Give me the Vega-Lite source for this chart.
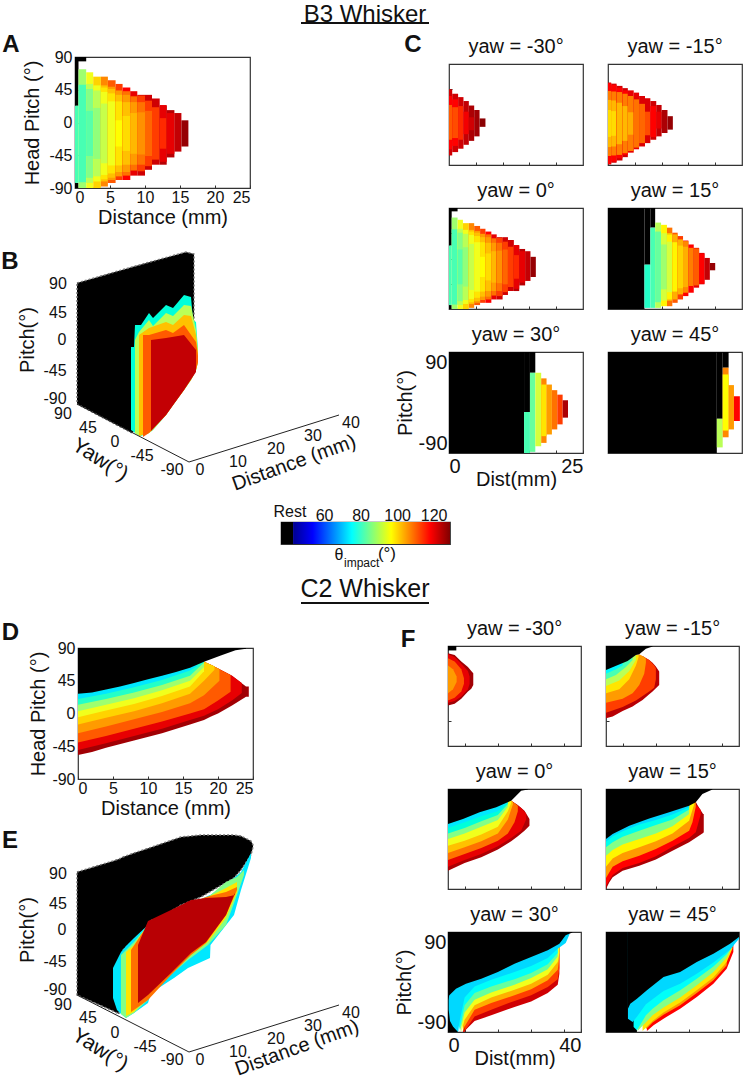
{"$schema":"https://vega.github.io/schema/vega-lite/v6.json","background":"white","padding":{"left":0,"top":0,"right":0,"bottom":0},"bounds":"flush","spacing":0,
"config":{"font":"Liberation Sans","view":{"stroke":"#333","strokeWidth":1.2},"axis":{"grid":false,"domain":false,"tickSize":-3,"tickColor":"#333","labelFont":"Liberation Sans","labelFontSize":16,"labelColor":"#111","labelPadding":5,"titleFont":"Liberation Sans","titleFontSize":20,"titleFontWeight":"normal","titleColor":"#111","titlePadding":3},"title":{"font":"Liberation Sans","fontSize":20,"fontWeight":"normal","color":"#111","offset":7,"anchor":"middle"},"text":{"font":"Liberation Sans","color":"#111","baseline":"middle"}},
"datasets":{
"A":[{"v":0,"x":0,"x2":1.6,"y":84,"y2":90},{"v":0,"x":0,"x2":0.5,"y":23,"y2":90},{"v":0,"x":0,"x2":0.5,"y":-90,"y2":-83},{"v":84,"x":0,"x2":0.5,"y":-83,"y2":23},
{"v":90,"x":0.5,"x2":1.6,"y":-90,"y2":73},{"v":84,"x":0.5,"x2":1.6,"y":-82,"y2":52},
{"v":96,"x":1.6,"x2":2.6,"y":-90,"y2":69},{"v":92,"x":1.6,"x2":2.6,"y":-83,"y2":53},{"v":88,"x":1.6,"x2":2.6,"y":-76,"y2":46},{"v":85,"x":1.6,"x2":2.6,"y":-46,"y2":16},
{"v":102,"x":2.6,"x2":3.7,"y":-90,"y2":63},{"v":96,"x":2.6,"x2":3.7,"y":-81,"y2":51},{"v":92,"x":2.6,"x2":3.7,"y":-74,"y2":44},{"v":89,"x":2.6,"x2":3.7,"y":-50,"y2":20},
{"v":110,"x":3.7,"x2":4.7,"y":-88,"y2":63},{"v":104,"x":3.7,"x2":4.7,"y":-81,"y2":51},{"v":100,"x":3.7,"x2":4.7,"y":-78,"y2":48},{"v":96,"x":3.7,"x2":4.7,"y":-72,"y2":42},{"v":93,"x":3.7,"x2":4.7,"y":-56,"y2":26},
{"v":114,"x":4.7,"x2":5.8,"y":-83,"y2":58},{"v":108,"x":4.7,"x2":5.8,"y":-79,"y2":49},{"v":104,"x":4.7,"x2":5.8,"y":-76,"y2":46},{"v":100,"x":4.7,"x2":5.8,"y":-70,"y2":40},{"v":96,"x":4.7,"x2":5.8,"y":-59,"y2":29},
{"v":116,"x":5.8,"x2":6.8,"y":-79,"y2":53},{"v":108,"x":5.8,"x2":6.8,"y":-74,"y2":44},{"v":104,"x":5.8,"x2":6.8,"y":-68,"y2":38},{"v":100,"x":5.8,"x2":6.8,"y":-59,"y2":29},{"v":97,"x":5.8,"x2":6.8,"y":-33,"y2":3},
{"v":118,"x":6.8,"x2":7.9,"y":-79,"y2":48},{"v":112,"x":6.8,"x2":7.9,"y":-73,"y2":43},{"v":108,"x":6.8,"x2":7.9,"y":-68,"y2":38},{"v":104,"x":6.8,"x2":7.9,"y":-58,"y2":28},{"v":101,"x":6.8,"x2":7.9,"y":-39,"y2":9},
{"v":120,"x":7.9,"x2":8.9,"y":-73,"y2":43},{"v":112,"x":7.9,"x2":8.9,"y":-66,"y2":36},{"v":108,"x":7.9,"x2":8.9,"y":-58,"y2":28},{"v":105,"x":7.9,"x2":8.9,"y":-43,"y2":13},
{"v":122,"x":8.9,"x2":10,"y":-73,"y2":38},{"v":116,"x":8.9,"x2":10,"y":-67,"y2":37},{"v":112,"x":8.9,"x2":10,"y":-58,"y2":28},{"v":109,"x":8.9,"x2":10,"y":-44,"y2":14},
{"v":122,"x":10,"x2":11,"y":-65,"y2":38},{"v":116,"x":10,"x2":11,"y":-60,"y2":30},{"v":113,"x":10,"x2":11,"y":-46,"y2":16},
{"v":122,"x":11,"x2":12.1,"y":-58,"y2":33},{"v":116,"x":11,"x2":12.1,"y":-51,"y2":21},
{"v":124,"x":12.1,"x2":13.1,"y":-58,"y2":23},{"v":120,"x":12.1,"x2":13.1,"y":-54,"y2":24},{"v":117,"x":12.1,"x2":13.1,"y":-36,"y2":6},
{"v":124,"x":13.1,"x2":14.2,"y":-48,"y2":17},{"v":120,"x":13.1,"x2":14.2,"y":-43,"y2":13},{"v":123,"x":14.2,"x2":15.2,"y":-40,"y2":13},{"v":127,"x":15.2,"x2":16.2,"y":-33,"y2":3}],
"C1":[{"v":122,"x":0,"x2":0.6,"y":-73,"y2":45},{"v":118,"x":0,"x2":0.6,"y":-62,"y2":33},{"v":114,"x":0,"x2":0.6,"y":-45,"y2":17},{"v":122,"x":0.6,"x2":1.7,"y":-67,"y2":37},{"v":118,"x":0.6,"x2":1.7,"y":-56,"y2":27},{"v":115,"x":0.6,"x2":1.7,"y":-42,"y2":13},{"v":122,"x":1.7,"x2":2.7,"y":-61,"y2":31},{"v":117,"x":1.7,"x2":2.7,"y":-45,"y2":15},{"v":123,"x":2.7,"x2":3.7,"y":-54,"y2":24},{"v":119,"x":2.7,"x2":3.7,"y":-35,"y2":5},{"v":125,"x":3.7,"x2":4.7,"y":-47,"y2":16},{"v":122,"x":3.7,"x2":4.7,"y":-28,"y2":-5},{"v":126,"x":4.7,"x2":5.7,"y":-39,"y2":8},{"v":128,"x":5.7,"x2":6.8,"y":-22,"y2":-7}],
"C2":[{"v":122,"x":0,"x2":0.6,"y":-89,"y2":57},{"v":118,"x":0,"x2":0.6,"y":-88,"y2":56},{"v":111,"x":0,"x2":0.6,"y":-74,"y2":42},{"v":105,"x":0,"x2":0.6,"y":-58,"y2":26},{"v":101,"x":0,"x2":0.6,"y":-40,"y2":8},
{"v":122,"x":0.6,"x2":1.6,"y":-86,"y2":55},{"v":118,"x":0.6,"x2":1.6,"y":-84,"y2":53},{"v":111,"x":0.6,"x2":1.6,"y":-73,"y2":41},{"v":105,"x":0.6,"x2":1.6,"y":-57,"y2":25},{"v":101,"x":0.6,"x2":1.6,"y":-38,"y2":6},
{"v":122,"x":1.6,"x2":2.7,"y":-82,"y2":51},{"v":118,"x":1.6,"x2":2.7,"y":-78,"y2":48},{"v":111,"x":1.6,"x2":2.7,"y":-72,"y2":40},{"v":105,"x":1.6,"x2":2.7,"y":-53,"y2":21},
{"v":122,"x":2.7,"x2":3.7,"y":-76,"y2":47},{"v":118,"x":2.7,"x2":3.7,"y":-72,"y2":43},{"v":111,"x":2.7,"x2":3.7,"y":-69,"y2":37},{"v":105,"x":2.7,"x2":3.7,"y":-47,"y2":15},
{"v":120,"x":3.7,"x2":4.8,"y":-68,"y2":43},{"v":111,"x":3.7,"x2":4.8,"y":-65,"y2":33},{"v":106,"x":3.7,"x2":4.8,"y":-36,"y2":4},
{"v":120,"x":4.8,"x2":5.8,"y":-62,"y2":39},{"v":112,"x":4.8,"x2":5.8,"y":-59,"y2":27},{"v":121,"x":5.8,"x2":6.9,"y":-57,"y2":33},{"v":113,"x":5.8,"x2":6.9,"y":-51,"y2":19},{"v":121,"x":6.9,"x2":7.9,"y":-51,"y2":29},{"v":115,"x":6.9,"x2":7.9,"y":-37,"y2":5},{"v":122,"x":7.9,"x2":9,"y":-45,"y2":24},{"v":118,"x":7.9,"x2":9,"y":-40,"y2":15},{"v":123,"x":9,"x2":10,"y":-39,"y2":17},{"v":120,"x":9,"x2":10,"y":-25,"y2":5},{"v":125,"x":10,"x2":11.1,"y":-33,"y2":8},{"v":127,"x":11.1,"x2":12.1,"y":-27,"y2":-3}],
"C4":[{"v":0,"x":0,"x2":6.8,"y":-90,"y2":90},{"v":0,"x":6.8,"x2":7.9,"y":-11,"y2":90},{"v":0,"x":7.9,"x2":8.8,"y":55,"y2":90},{"v":82,"x":6.8,"x2":7.9,"y":-88,"y2":-11},{"v":84,"x":7.9,"x2":8.8,"y":-88,"y2":55},
{"v":92,"x":8.8,"x2":9.9,"y":-88,"y2":64},{"v":86,"x":8.8,"x2":9.9,"y":-78,"y2":48},
{"v":98,"x":9.9,"x2":11,"y":-85,"y2":60},{"v":94,"x":9.9,"x2":11,"y":-75,"y2":45},{"v":90,"x":9.9,"x2":11,"y":-55,"y2":25},
{"v":112,"x":11,"x2":12,"y":-85,"y2":55},{"v":102,"x":11,"x2":12,"y":-75,"y2":45},{"v":98,"x":11,"x2":12,"y":-72,"y2":42},{"v":94,"x":11,"x2":12,"y":-60,"y2":30},
{"v":114,"x":12,"x2":13,"y":-79,"y2":46},{"v":106,"x":12,"x2":13,"y":-73,"y2":43},{"v":98,"x":12,"x2":13,"y":-59,"y2":29},
{"v":116,"x":13,"x2":14,"y":-73,"y2":40},{"v":106,"x":13,"x2":14,"y":-64,"y2":34},{"v":102,"x":13,"x2":14,"y":-53,"y2":23},
{"v":118,"x":14,"x2":15,"y":-67,"y2":32},{"v":110,"x":14,"x2":15,"y":-61,"y2":31},{"v":106,"x":14,"x2":15,"y":-51,"y2":21},
{"v":118,"x":15,"x2":16,"y":-61,"y2":25},{"v":111,"x":15,"x2":16,"y":-49,"y2":19},{"v":120,"x":16,"x2":17,"y":-52,"y2":19},{"v":114,"x":16,"x2":17,"y":-48,"y2":18},{"v":122,"x":17,"x2":18,"y":-46,"y2":10},{"v":118,"x":17,"x2":18,"y":-45,"y2":9},{"v":123,"x":18,"x2":19,"y":-38,"y2":1},{"v":127,"x":19,"x2":20,"y":-21,"y2":-8}],
"C5":[{"v":0,"x":0,"x2":14,"y":-90,"y2":90},{"v":0,"x":14,"x2":15.1,"y":-17,"y2":90},{"v":0,"x":15.1,"x2":16.1,"y":53,"y2":90},{"v":84,"x":14,"x2":15.1,"y":-90,"y2":-17},{"v":86,"x":15.1,"x2":16.1,"y":-88,"y2":53},{"v":94,"x":16.1,"x2":17.2,"y":-78,"y2":53},{"v":110,"x":17.2,"x2":18.2,"y":-72,"y2":43},{"v":100,"x":17.2,"x2":18.2,"y":-60,"y2":32},{"v":108,"x":18.2,"x2":19.2,"y":-57,"y2":32},{"v":112,"x":19.2,"x2":20.2,"y":-48,"y2":22},{"v":116,"x":20.2,"x2":21.2,"y":-39,"y2":14},{"v":125,"x":21.2,"x2":22.2,"y":-27,"y2":4}],
"C6":[{"v":0,"x":0,"x2":20.3,"y":-90,"y2":90},{"v":0,"x":20.3,"x2":21.4,"y":-29,"y2":90},{"v":0,"x":21.4,"x2":22.5,"y":62,"y2":90},{"v":92,"x":20.3,"x2":21.4,"y":-80,"y2":-29},{"v":110,"x":21.4,"x2":22.5,"y":-62,"y2":62},{"v":97,"x":21.4,"x2":22.5,"y":-50,"y2":50},{"v":108,"x":22.5,"x2":23.5,"y":-48,"y2":31},{"v":118,"x":23.5,"x2":24.6,"y":-33,"y2":11}],
"D":[{"v":126,"x":0,"y":-57,"y2":90},{"v":126,"x":2,"y":-53,"y2":90},{"v":126,"x":4,"y":-47,"y2":90},{"v":126,"x":8,"y":-37,"y2":90},{"v":126,"x":12,"y":-27,"y2":90},{"v":126,"x":16,"y":-15,"y2":90},{"v":126,"x":18,"y":-9,"y2":71},{"v":126,"x":19,"y":-4,"y2":67},{"v":126,"x":20,"y":0,"y2":62},{"v":126,"x":22,"y":11,"y2":52},{"v":126,"x":24,"y":23,"y2":37},{"v":126,"x":24.4,"y":23,"y2":37},
{"v":120,"x":0,"y":-50,"y2":90},{"v":120,"x":4,"y":-41,"y2":90},{"v":120,"x":8,"y":-31,"y2":90},{"v":120,"x":12,"y":-21,"y2":90},{"v":120,"x":16,"y":-9,"y2":90},{"v":120,"x":18,"y":-3,"y2":71},{"v":120,"x":20,"y":6,"y2":62},{"v":120,"x":22,"y":18,"y2":52},{"v":120,"x":23.4,"y":28,"y2":42},
{"v":114,"x":0,"y":-40,"y2":90},{"v":114,"x":4,"y":-31,"y2":90},{"v":114,"x":8,"y":-21,"y2":90},{"v":114,"x":12,"y":-11,"y2":90},{"v":114,"x":16,"y":0,"y2":90},{"v":114,"x":18,"y":6,"y2":71},{"v":114,"x":20,"y":18,"y2":62},{"v":114,"x":21.8,"y":30,"y2":53},
{"v":108,"x":0,"y":-27,"y2":90},{"v":108,"x":4,"y":-18,"y2":90},{"v":108,"x":8,"y":-8,"y2":90},{"v":108,"x":12,"y":2,"y2":90},{"v":108,"x":16,"y":14,"y2":90},{"v":108,"x":18,"y":25,"y2":71},{"v":108,"x":20.2,"y":45,"y2":61},
{"v":102,"x":0,"y":-15,"y2":90},{"v":102,"x":4,"y":-6,"y2":90},{"v":102,"x":8,"y":3,"y2":90},{"v":102,"x":12,"y":14,"y2":90},{"v":102,"x":16,"y":27,"y2":90},{"v":102,"x":18,"y":45,"y2":71},{"v":102,"x":19.5,"y":60,"y2":65},
{"v":96,"x":0,"y":-5,"y2":90},{"v":96,"x":4,"y":4,"y2":90},{"v":96,"x":8,"y":13,"y2":90},{"v":96,"x":12,"y":24,"y2":90},{"v":96,"x":16,"y":37,"y2":90},{"v":96,"x":18,"y":58,"y2":71},
{"v":90,"x":0,"y":3,"y2":90},{"v":90,"x":4,"y":12,"y2":90},{"v":90,"x":8,"y":21,"y2":90},{"v":90,"x":12,"y":32,"y2":90},{"v":90,"x":16,"y":45,"y2":90},{"v":90,"x":18,"y":64,"y2":71},
{"v":82,"x":0,"y":12,"y2":90},{"v":82,"x":4,"y":20,"y2":90},{"v":82,"x":8,"y":29,"y2":90},{"v":82,"x":12,"y":39,"y2":90},{"v":82,"x":16,"y":52,"y2":90},{"v":82,"x":18,"y":70,"y2":72},
{"v":72,"x":0,"y":20,"y2":90},{"v":72,"x":4,"y":27,"y2":90},{"v":72,"x":8,"y":36,"y2":90},{"v":72,"x":12,"y":46,"y2":90},{"v":72,"x":16,"y":59,"y2":90},{"v":72,"x":17,"y":65,"y2":90},
{"v":0,"x":0,"y":27,"y2":90},{"v":0,"x":2,"y":29,"y2":90},{"v":0,"x":4,"y":33,"y2":90},{"v":0,"x":6,"y":37,"y2":90},{"v":0,"x":8,"y":42,"y2":90},{"v":0,"x":10,"y":47,"y2":90},{"v":0,"x":12,"y":52,"y2":90},{"v":0,"x":14,"y":57,"y2":90},{"v":0,"x":16,"y":63,"y2":90},{"v":0,"x":18,"y":71,"y2":90},{"v":0,"x":20.5,"y":80,"y2":90},{"v":0,"x":22.5,"y":87,"y2":90},{"v":0,"x":24,"y":89,"y2":90}],
"F1":[{"v":0,"x":0,"y":82,"y2":90},{"v":0,"x":2.5,"y":82,"y2":90},
{"v":126,"x":0,"y":-17,"y2":77},{"v":126,"x":2,"y":-14,"y2":74},{"v":126,"x":4,"y":-5,"y2":62},{"v":126,"x":6,"y":8,"y2":52},{"v":126,"x":7,"y":13,"y2":45},{"v":126,"x":7.6,"y":20,"y2":41},
{"v":120,"x":0,"y":-12,"y2":75},{"v":120,"x":2,"y":-9,"y2":70},{"v":120,"x":4,"y":-1,"y2":58},{"v":120,"x":6,"y":12,"y2":45},{"v":120,"x":6.5,"y":22,"y2":35},
{"v":114,"x":0,"y":-8,"y2":68},{"v":114,"x":2,"y":-3,"y2":62},{"v":114,"x":4,"y":8,"y2":48},{"v":114,"x":4.8,"y":22,"y2":32},
{"v":108,"x":0,"y":5,"y2":55},{"v":108,"x":1.5,"y":12,"y2":48},{"v":108,"x":2.6,"y":25,"y2":35}],
"F2":[{"v":124,"x":0,"y":-40,"y2":90},{"v":124,"x":2,"y":-37,"y2":90},{"v":124,"x":5,"y":-27,"y2":90},{"v":124,"x":8,"y":-19,"y2":90},{"v":124,"x":9,"y":-15,"y2":74},{"v":124,"x":11,"y":-7,"y2":72},{"v":124,"x":13,"y":3,"y2":65},{"v":124,"x":14,"y":8,"y2":60},{"v":124,"x":15,"y":14,"y2":53},{"v":124,"x":16,"y":20,"y2":44},
{"v":116,"x":0,"y":-30,"y2":90},{"v":116,"x":5,"y":-20,"y2":90},{"v":116,"x":9,"y":-8,"y2":74},{"v":116,"x":11,"y":0,"y2":71},{"v":116,"x":13,"y":8,"y2":65},{"v":116,"x":14.5,"y":15,"y2":55},{"v":116,"x":15,"y":30,"y2":50},
{"v":108,"x":0,"y":-12,"y2":90},{"v":108,"x":5,"y":-5,"y2":90},{"v":108,"x":8,"y":5,"y2":90},{"v":108,"x":9,"y":12,"y2":74},{"v":108,"x":10,"y":20,"y2":75},{"v":108,"x":11.5,"y":40,"y2":70},{"v":108,"x":12,"y":60,"y2":67},
{"v":100,"x":0,"y":5,"y2":90},{"v":100,"x":4,"y":12,"y2":90},{"v":100,"x":7,"y":30,"y2":90},{"v":100,"x":9,"y":55,"y2":74},{"v":100,"x":9.8,"y":70,"y2":74},
{"v":92,"x":0,"y":18,"y2":90},{"v":92,"x":4,"y":28,"y2":90},{"v":92,"x":7,"y":45,"y2":90},{"v":92,"x":9,"y":65,"y2":74},
{"v":84,"x":0,"y":30,"y2":90},{"v":84,"x":3,"y":38,"y2":90},{"v":84,"x":6,"y":52,"y2":90},{"v":84,"x":8,"y":65,"y2":90},
{"v":74,"x":0,"y":40,"y2":90},{"v":74,"x":3,"y":48,"y2":90},{"v":74,"x":5,"y":55,"y2":90},
{"v":0,"x":0,"y":47,"y2":90},{"v":0,"x":2.5,"y":53,"y2":90},{"v":0,"x":6.5,"y":63,"y2":90},{"v":0,"x":9,"y":74,"y2":90},{"v":0,"x":10,"y":75,"y2":90},{"v":0,"x":12,"y":85,"y2":90},{"v":0,"x":14,"y":89,"y2":90}],
"F3":[{"v":125,"x":0,"y":-57,"y2":90},{"v":125,"x":5,"y":-43,"y2":90},{"v":125,"x":10,"y":-33,"y2":90},{"v":125,"x":15,"y":-19,"y2":90},{"v":125,"x":19,"y":-4,"y2":69},{"v":125,"x":21,"y":5,"y2":61},{"v":125,"x":23,"y":15,"y2":51},{"v":125,"x":24.5,"y":24,"y2":36},
{"v":120,"x":0,"y":-50,"y2":90},{"v":120,"x":5,"y":-38,"y2":90},{"v":120,"x":10,"y":-27,"y2":90},{"v":120,"x":15,"y":-13,"y2":90},{"v":120,"x":19,"y":2,"y2":69},{"v":120,"x":22,"y":15,"y2":56},{"v":120,"x":23.5,"y":35,"y2":46},
{"v":112,"x":0,"y":-38,"y2":90},{"v":112,"x":5,"y":-27,"y2":90},{"v":112,"x":10,"y":-16,"y2":90},{"v":112,"x":15,"y":-3,"y2":90},{"v":112,"x":18,"y":10,"y2":71},{"v":112,"x":20,"y":30,"y2":65},{"v":112,"x":21,"y":50,"y2":60},
{"v":104,"x":0,"y":-25,"y2":90},{"v":104,"x":5,"y":-15,"y2":90},{"v":104,"x":10,"y":-4,"y2":90},{"v":104,"x":15,"y":10,"y2":90},{"v":104,"x":18,"y":35,"y2":72},{"v":104,"x":19.5,"y":62,"y2":67},
{"v":96,"x":0,"y":-12,"y2":90},{"v":96,"x":5,"y":-3,"y2":90},{"v":96,"x":10,"y":8,"y2":90},{"v":96,"x":15,"y":22,"y2":90},{"v":96,"x":18,"y":50,"y2":72},{"v":96,"x":19,"y":65,"y2":69},
{"v":88,"x":0,"y":0,"y2":90},{"v":88,"x":5,"y":10,"y2":90},{"v":88,"x":10,"y":22,"y2":90},{"v":88,"x":15,"y":34,"y2":90},{"v":88,"x":18,"y":58,"y2":72},
{"v":80,"x":0,"y":10,"y2":90},{"v":80,"x":5,"y":20,"y2":90},{"v":80,"x":10,"y":32,"y2":90},{"v":80,"x":15,"y":43,"y2":90},{"v":80,"x":18,"y":63,"y2":72},
{"v":72,"x":0,"y":20,"y2":90},{"v":72,"x":5,"y":30,"y2":90},{"v":72,"x":10,"y":41,"y2":90},{"v":72,"x":15,"y":50,"y2":90},{"v":72,"x":18,"y":66,"y2":90},
{"v":0,"x":0,"y":27,"y2":90},{"v":0,"x":4.5,"y":36,"y2":90},{"v":0,"x":9.5,"y":48,"y2":90},{"v":0,"x":14.5,"y":57,"y2":90},{"v":0,"x":19,"y":69,"y2":90},{"v":0,"x":22,"y":87,"y2":90},{"v":0,"x":24,"y":89,"y2":90}],
"F4":[{"v":125,"x":0,"y":-90,"y2":90},{"v":125,"x":1,"y":-78,"y2":90},{"v":125,"x":2,"y":-69,"y2":90},{"v":125,"x":5,"y":-57,"y2":90},{"v":125,"x":10,"y":-48,"y2":90},{"v":125,"x":15,"y":-37,"y2":90},{"v":125,"x":20,"y":-21,"y2":90},{"v":125,"x":25,"y":-6,"y2":90},{"v":125,"x":27.5,"y":4,"y2":61},{"v":125,"x":29.2,"y":11,"y2":45},{"v":125,"x":29.4,"y":12,"y2":45},
{"v":118,"x":0,"y":-84,"y2":90},{"v":118,"x":2,"y":-65,"y2":90},{"v":118,"x":5,"y":-52,"y2":90},{"v":118,"x":10,"y":-43,"y2":90},{"v":118,"x":15,"y":-31,"y2":90},{"v":118,"x":20,"y":-14,"y2":90},{"v":118,"x":25,"y":2,"y2":90},{"v":118,"x":27,"y":12,"y2":62},{"v":118,"x":28.5,"y":45,"y2":52},
{"v":108,"x":0,"y":-70,"y2":90},{"v":108,"x":2,"y":-50,"y2":90},{"v":108,"x":5,"y":-40,"y2":90},{"v":108,"x":10,"y":-30,"y2":90},{"v":108,"x":15,"y":-18,"y2":90},{"v":108,"x":20,"y":-3,"y2":90},{"v":108,"x":25,"y":15,"y2":90},{"v":108,"x":26,"y":30,"y2":90},{"v":108,"x":27,"y":58,"y2":66},
{"v":98,"x":0,"y":-50,"y2":90},{"v":98,"x":2,"y":-35,"y2":90},{"v":98,"x":5,"y":-25,"y2":90},{"v":98,"x":10,"y":-15,"y2":90},{"v":98,"x":15,"y":-4,"y2":90},{"v":98,"x":20,"y":10,"y2":90},{"v":98,"x":25,"y":33,"y2":90},{"v":98,"x":26.5,"y":62,"y2":90},
{"v":88,"x":0,"y":-30,"y2":90},{"v":88,"x":2,"y":-20,"y2":90},{"v":88,"x":5,"y":-10,"y2":90},{"v":88,"x":10,"y":0,"y2":90},{"v":88,"x":15,"y":10,"y2":90},{"v":88,"x":20,"y":23,"y2":90},{"v":88,"x":25,"y":45,"y2":90},
{"v":78,"x":0,"y":-15,"y2":90},{"v":78,"x":2,"y":-6,"y2":90},{"v":78,"x":5,"y":4,"y2":90},{"v":78,"x":10,"y":15,"y2":90},{"v":78,"x":15,"y":25,"y2":90},{"v":78,"x":20,"y":35,"y2":90},{"v":78,"x":25,"y":53,"y2":90},
{"v":70,"x":0,"y":-5,"y2":90},{"v":70,"x":2,"y":5,"y2":90},{"v":70,"x":5,"y":14,"y2":90},{"v":70,"x":10,"y":26,"y2":90},{"v":70,"x":15,"y":34,"y2":90},{"v":70,"x":20,"y":44,"y2":90},{"v":70,"x":25,"y":57,"y2":90},
{"v":0,"x":0,"y":0,"y2":90},{"v":0,"x":2,"y":9,"y2":90},{"v":0,"x":7,"y":24,"y2":90},{"v":0,"x":13,"y":37,"y2":90},{"v":0,"x":19,"y":48,"y2":90},{"v":0,"x":25,"y":60,"y2":90},{"v":0,"x":27,"y":66,"y2":90},{"v":0,"x":29,"y":81,"y2":90},{"v":0,"x":32,"y":89,"y2":90}],
"F5":[{"v":0.1,"x":0,"y":-90,"y2":90},{"v":0.1,"x":3,"y":-90,"y2":90},
{"v":122,"x":4.5,"y":-90,"y2":90},{"v":122,"x":5,"y":-90,"y2":90},{"v":122,"x":5.5,"y":-85,"y2":90},{"v":122,"x":8,"y":-70,"y2":90},{"v":122,"x":13,"y":-60,"y2":90},{"v":122,"x":20,"y":-45,"y2":90},{"v":122,"x":25,"y":-35,"y2":90},{"v":122,"x":30,"y":-20,"y2":90},{"v":122,"x":33,"y":-5,"y2":90},{"v":122,"x":33.5,"y":15,"y2":90},
{"v":116,"x":5,"y":-88,"y2":90},{"v":116,"x":8,"y":-62,"y2":90},{"v":116,"x":13,"y":-50,"y2":90},{"v":116,"x":20,"y":-34,"y2":90},{"v":116,"x":25,"y":-24,"y2":90},{"v":116,"x":30,"y":-9,"y2":90},{"v":116,"x":33,"y":5,"y2":90},{"v":116,"x":33.5,"y":25,"y2":90},
{"v":106,"x":4.5,"y":-90,"y2":90},{"v":106,"x":5,"y":-80,"y2":90},{"v":106,"x":8,"y":-50,"y2":90},{"v":106,"x":13,"y":-38,"y2":90},{"v":106,"x":20,"y":-24,"y2":90},{"v":106,"x":25,"y":-13,"y2":90},{"v":106,"x":30,"y":3,"y2":90},{"v":106,"x":33,"y":22,"y2":90},{"v":106,"x":33.5,"y":45,"y2":90},
{"v":96,"x":4,"y":-90,"y2":90},{"v":96,"x":5,"y":-68,"y2":90},{"v":96,"x":8,"y":-42,"y2":90},{"v":96,"x":13,"y":-28,"y2":90},{"v":96,"x":20,"y":-14,"y2":90},{"v":96,"x":25,"y":-3,"y2":90},{"v":96,"x":30,"y":13,"y2":90},{"v":96,"x":33,"y":36,"y2":90},{"v":96,"x":33.5,"y":52,"y2":90},
{"v":86,"x":3.6,"y":-90,"y2":90},{"v":86,"x":5,"y":-55,"y2":90},{"v":86,"x":8,"y":-32,"y2":90},{"v":86,"x":13,"y":-19,"y2":90},{"v":86,"x":20,"y":-5,"y2":90},{"v":86,"x":25,"y":7,"y2":90},{"v":86,"x":30,"y":23,"y2":90},{"v":86,"x":33,"y":46,"y2":90},
{"v":76,"x":3.2,"y":-90,"y2":90},{"v":76,"x":4,"y":-70,"y2":90},{"v":76,"x":5,"y":-42,"y2":90},{"v":76,"x":8,"y":-20,"y2":90},{"v":76,"x":13,"y":-8,"y2":90},{"v":76,"x":20,"y":5,"y2":90},{"v":76,"x":25,"y":16,"y2":90},{"v":76,"x":30,"y":32,"y2":90},{"v":76,"x":33,"y":52,"y2":90},
{"v":70,"x":0.2,"y":-50,"y2":90},{"v":70,"x":0.6,"y":-70,"y2":90},{"v":70,"x":1.5,"y":-80,"y2":90},{"v":70,"x":3,"y":-90,"y2":90},{"v":70,"x":3.5,"y":-70,"y2":90},{"v":70,"x":5,"y":-28,"y2":90},{"v":70,"x":8,"y":-8,"y2":90},{"v":70,"x":13,"y":4,"y2":90},{"v":70,"x":20,"y":18,"y2":90},{"v":70,"x":25,"y":29,"y2":90},{"v":70,"x":30,"y":43,"y2":90},{"v":70,"x":33,"y":60,"y2":90},{"v":70,"x":35.4,"y":70,"y2":90},{"v":70,"x":36.5,"y":85,"y2":90},
{"v":0,"x":0,"y":-33,"y2":90},{"v":0,"x":0.4,"y":-24,"y2":90},{"v":0,"x":2.4,"y":-12,"y2":90},{"v":0,"x":5.4,"y":-3,"y2":90},{"v":0,"x":10,"y":6,"y2":90},{"v":0,"x":15,"y":18,"y2":90},{"v":0,"x":20,"y":33,"y2":90},{"v":0,"x":25,"y":45,"y2":90},{"v":0,"x":30,"y":57,"y2":90},{"v":0,"x":33.5,"y":69,"y2":90},{"v":0,"x":35.4,"y":84,"y2":90},{"v":0,"x":37.4,"y":89,"y2":90}],
"F6":[{"v":0.1,"x":0,"y":-90,"y2":90},{"v":0.1,"x":9.3,"y":-90,"y2":90},
{"v":118,"x":12.3,"y":-88,"y2":90},{"v":118,"x":14.3,"y":-78,"y2":90},{"v":118,"x":17.3,"y":-66,"y2":90},{"v":118,"x":22.3,"y":-48,"y2":90},{"v":118,"x":27.3,"y":-27,"y2":90},{"v":118,"x":32.3,"y":-3,"y2":90},{"v":118,"x":36.3,"y":24,"y2":90},{"v":118,"x":38.3,"y":54,"y2":90},
{"v":108,"x":12,"y":-85,"y2":90},{"v":108,"x":14,"y":-73,"y2":90},{"v":108,"x":17.3,"y":-59,"y2":90},{"v":108,"x":22.3,"y":-42,"y2":90},{"v":108,"x":27.3,"y":-20,"y2":90},{"v":108,"x":32.3,"y":3,"y2":90},{"v":108,"x":36.3,"y":30,"y2":90},
{"v":100,"x":11,"y":-88,"y2":90},{"v":100,"x":14,"y":-70,"y2":90},{"v":100,"x":17.3,"y":-55,"y2":90},{"v":100,"x":22.3,"y":-37,"y2":90},{"v":100,"x":27.3,"y":-15,"y2":90},{"v":100,"x":32.3,"y":8,"y2":90},{"v":100,"x":36.3,"y":36,"y2":90},{"v":100,"x":38,"y":60,"y2":90},
{"v":88,"x":9.5,"y":-88,"y2":90},{"v":88,"x":14,"y":-60,"y2":90},{"v":88,"x":17.3,"y":-46,"y2":90},{"v":88,"x":22.3,"y":-28,"y2":90},{"v":88,"x":27.3,"y":-6,"y2":90},{"v":88,"x":32.3,"y":18,"y2":90},{"v":88,"x":36.3,"y":44,"y2":90},{"v":88,"x":38,"y":64,"y2":90},
{"v":76,"x":8.3,"y":-81,"y2":90},{"v":76,"x":9.3,"y":-87,"y2":90},{"v":76,"x":12,"y":-60,"y2":90},{"v":76,"x":14,"y":-48,"y2":90},{"v":76,"x":17.3,"y":-33,"y2":90},{"v":76,"x":22.3,"y":-15,"y2":90},{"v":76,"x":27.3,"y":6,"y2":90},{"v":76,"x":32.3,"y":28,"y2":90},{"v":76,"x":36.3,"y":50,"y2":90},{"v":76,"x":38.5,"y":68,"y2":90},
{"v":70,"x":6.6,"y":-66,"y2":90},{"v":70,"x":8,"y":-72,"y2":90},{"v":70,"x":9,"y":-65,"y2":90},{"v":70,"x":12,"y":-40,"y2":90},{"v":70,"x":17.3,"y":-16,"y2":90},{"v":70,"x":22.3,"y":-3,"y2":90},{"v":70,"x":27.3,"y":15,"y2":90},{"v":70,"x":32.3,"y":35,"y2":90},{"v":70,"x":37.3,"y":58,"y2":90},{"v":70,"x":40,"y":78,"y2":90},
{"v":0,"x":6.6,"y":-48,"y2":90},{"v":0,"x":7.3,"y":-39,"y2":90},{"v":0,"x":9.3,"y":-30,"y2":90},{"v":0,"x":12.3,"y":-15,"y2":90},{"v":0,"x":17.3,"y":9,"y2":90},{"v":0,"x":22.3,"y":18,"y2":90},{"v":0,"x":27.3,"y":36,"y2":90},{"v":0,"x":32.3,"y":51,"y2":90},{"v":0,"x":37.3,"y":69,"y2":90},{"v":0,"x":40,"y":81,"y2":90}],
"B0":[{"v":0,"x":76,"y":283,"y2":404},{"v":0,"x":131,"y":267,"y2":433},{"v":0,"x":185,"y":252,"y2":380},{"v":0,"x":193,"y":254,"y2":330}],
"B":[{"v":80,"x":130,"y":347,"y2":430},{"v":80,"x":133,"y":347,"y2":432},{"v":80,"x":134,"y":325,"y2":433},{"v":80,"x":140,"y":325,"y2":436},{"v":80,"x":148,"y":313,"y2":433},{"v":80,"x":152,"y":318,"y2":430},{"v":80,"x":165,"y":305,"y2":415},{"v":80,"x":172,"y":308,"y2":405},{"v":80,"x":183,"y":295,"y2":390},{"v":80,"x":190,"y":297,"y2":380},{"v":80,"x":192,"y":320,"y2":376},{"v":80,"x":195,"y":322,"y2":370},{"v":80,"x":197,"y":350,"y2":362},
{"v":92,"x":134,"y":340,"y2":433},{"v":92,"x":138,"y":332,"y2":436},{"v":92,"x":148,"y":320,"y2":433},{"v":92,"x":152,"y":326,"y2":430},{"v":92,"x":165,"y":313,"y2":415},{"v":92,"x":172,"y":316,"y2":405},{"v":92,"x":183,"y":305,"y2":390},{"v":92,"x":190,"y":306,"y2":380},{"v":92,"x":195,"y":330,"y2":370},{"v":92,"x":197,"y":352,"y2":362},
{"v":104,"x":138,"y":335,"y2":436},{"v":104,"x":148,"y":328,"y2":433},{"v":104,"x":165,"y":322,"y2":415},{"v":104,"x":172,"y":325,"y2":405},{"v":104,"x":183,"y":315,"y2":390},{"v":104,"x":190,"y":316,"y2":380},{"v":104,"x":195,"y":335,"y2":370},{"v":104,"x":197,"y":354,"y2":362},
{"v":114,"x":142,"y":335,"y2":437},{"v":114,"x":148,"y":335,"y2":433},{"v":114,"x":165,"y":330,"y2":415},{"v":114,"x":172,"y":333,"y2":405},{"v":114,"x":183,"y":325,"y2":390},{"v":114,"x":195,"y":342,"y2":370},{"v":114,"x":197,"y":356,"y2":362},
{"v":123,"x":150,"y":340,"y2":431},{"v":123,"x":165,"y":338,"y2":415},{"v":123,"x":183,"y":335,"y2":390},{"v":123,"x":195,"y":350,"y2":372}],
"E0":[{"v":0,"x":76,"y":872,"y2":995},{"v":0,"x":112,"y":861,"y2":1011},{"v":0,"x":118,"y":859,"y2":1014},{"v":0,"x":122,"y":857,"y2":950},{"v":0,"x":133,"y":853,"y2":940},{"v":0,"x":148,"y":848,"y2":925},{"v":0,"x":180,"y":837,"y2":905},{"v":0,"x":200,"y":835,"y2":897},{"v":0,"x":233,"y":835,"y2":878},{"v":0,"x":240,"y":836,"y2":870},{"v":0,"x":250,"y":841,"y2":855},{"v":0,"x":252,"y":845,"y2":847}],
"E":[{"v":72,"x":112,"y":968,"y2":998},{"v":72,"x":116,"y":960,"y2":1010},{"v":72,"x":120,"y":952,"y2":1014},{"v":72,"x":125,"y":946,"y2":1018},{"v":72,"x":133,"y":938,"y2":1013},{"v":72,"x":147,"y":925,"y2":1003},{"v":72,"x":150,"y":920,"y2":993},{"v":72,"x":173,"y":912,"y2":978},{"v":72,"x":187,"y":905,"y2":968},{"v":72,"x":209,"y":895,"y2":958},{"v":72,"x":209.5,"y":895,"y2":945},{"v":72,"x":233,"y":878,"y2":915},{"v":72,"x":240,"y":872,"y2":890},{"v":72,"x":250,"y":853,"y2":858},
{"v":88,"x":120,"y":955,"y2":1014},{"v":88,"x":125,"y":950,"y2":1018},{"v":88,"x":133,"y":942,"y2":1013},{"v":88,"x":147,"y":925,"y2":1000},{"v":88,"x":150,"y":920,"y2":990},{"v":88,"x":173,"y":912,"y2":972},{"v":88,"x":187,"y":905,"y2":960},{"v":88,"x":207,"y":897,"y2":945},{"v":88,"x":225,"y":882,"y2":925},{"v":88,"x":236,"y":877,"y2":895},{"v":88,"x":243,"y":870,"y2":875},
{"v":100,"x":125,"y":952,"y2":1016},{"v":100,"x":133,"y":945,"y2":1012},{"v":100,"x":147,"y":925,"y2":997},{"v":100,"x":173,"y":912,"y2":968},{"v":100,"x":190,"y":903,"y2":955},{"v":100,"x":207,"y":897,"y2":942},{"v":100,"x":225,"y":888,"y2":918},{"v":100,"x":236,"y":882,"y2":892},
{"v":112,"x":130,"y":950,"y2":1012},{"v":112,"x":140,"y":935,"y2":1005},{"v":112,"x":147,"y":925,"y2":1000},{"v":112,"x":170,"y":912,"y2":975},{"v":112,"x":190,"y":903,"y2":955},{"v":112,"x":205,"y":897,"y2":943},{"v":112,"x":225,"y":892,"y2":915},{"v":112,"x":236,"y":887,"y2":890},
{"v":124,"x":137,"y":945,"y2":1003},{"v":124,"x":147,"y":921,"y2":995},{"v":124,"x":170,"y":910,"y2":973},{"v":124,"x":190,"y":900,"y2":953},{"v":124,"x":205,"y":898,"y2":942},{"v":124,"x":225,"y":897,"y2":915},{"v":124,"x":234,"y":895,"y2":893}]
},
"vconcat":[
{"width":743,"height":57,"view":{"stroke":null},"data":{"values":[{"t":"B3 Whisker","x":364,"y":22,"a":300,"b":428,"c":23}]},"layer":[{"mark":{"type":"text","fontSize":24,"baseline":"alphabetic"},"encoding":{"text":{"field":"t"},"x":{"field":"x","type":"quantitative","scale":{"domain":[0,743]},"axis":null},"y":{"field":"y","type":"quantitative","scale":{"domain":[57,0]},"axis":null}}},{"mark":{"type":"rule","color":"#111","strokeWidth":2},"encoding":{"x":{"field":"a","type":"quantitative","scale":{"domain":[0,743]},"axis":null},"x2":{"field":"b"},"y":{"field":"c","type":"quantitative","scale":{"domain":[57,0]},"axis":null}}}]},
{"bounds":"flush","spacing":0,"hconcat":[
{"width":74,"height":1,"view":{"stroke":null},"data":{"values":[{}]},"mark":{"type":"rule","opacity":0},"encoding":{}},
{"bounds":"flush","spacing":52,"vconcat":[
{"width":175,"height":131,"data":{"name":"A"},"mark":"rect","encoding":{"x":{"field":"x","type":"quantitative","scale":{"domain":[0,25]},"axis":{"values":[0,5,10,15,20,25],"labelOverlap":false,"title":"Distance (mm)","titlePadding":2,"labelPadding":4}},"x2":{"field":"x2"},"y":{"field":"y","type":"quantitative","scale":{"domain":[-90,90]},"axis":{"values":[-90,-45,0,45,90],"labelOverlap":false,"labelExpr":"''+datum.value","title":"Head Pitch (°)","titlePadding":6,"labelPadding":6}},"y2":{"field":"y2"},"color":{"field":"v","type":"quantitative","legend":null,"scale":{"domain":[0,42.9,43,54,75,97,118,129],"range":["#000","#000","#00008f","#0000ff","#00ffff","#ffff00","#ff0000","#800000"]}}}},
{"width":286,"height":250,"view":{"stroke":null},"encoding":{"x":{"field":"x","type":"quantitative","scale":{"domain":[74,360]},"axis":null},"y":{"field":"y","type":"quantitative","scale":{"domain":[490,240]},"axis":null}},"layer":[
{"data":{"name":"B0"},"mark":{"type":"area","color":"#000","stroke":"#777","strokeWidth":1.5,"strokeDash":[2,2]},"encoding":{"y2":{"field":"y2"}}},
{"data":{"name":"B"},"mark":"area","encoding":{"y2":{"field":"y2"},"detail":{"field":"v","type":"nominal"},"color":{"field":"v","type":"quantitative","legend":null,"scale":{"domain":[0,42.9,43,54,75,97,118,129],"range":["#000","#000","#00008f","#0000ff","#00ffff","#ffff00","#ff0000","#800000"]}}}},
{"data":{"values":[{"x":76,"y":404,"a":188,"b":462},{"x":188,"y":462,"a":338,"b":415}]},"mark":{"type":"rule","color":"#222","strokeWidth":1},"encoding":{"x2":{"field":"a"},"y2":{"field":"b"}}},
{"data":{"values":[{"x":57,"y":284,"t":"90"},{"x":57,"y":313,"t":"45"},{"x":61,"y":340,"t":"0"},{"x":54,"y":371,"t":"-45"},{"x":54,"y":399,"t":"-90"},{"x":62,"y":414,"t":"90"},{"x":87,"y":428,"t":"45"},{"x":114,"y":442,"t":"0"},{"x":141,"y":456,"t":"-45"},{"x":171,"y":470,"t":"-90"},{"x":199,"y":470,"t":"0"},{"x":237,"y":462,"t":"10"},{"x":275,"y":449,"t":"20"},{"x":312,"y":436,"t":"30"},{"x":350,"y":423,"t":"40"}]},"mark":{"type":"text","fontSize":16},"encoding":{"text":{"field":"t"}}},
{"data":{"values":[{"x":9,"y":262,"t":"B"},{"x":10,"y":45,"t":"A"},{"x":412,"y":45,"t":"C"}]},"mark":{"type":"text","fontSize":24,"fontWeight":"bold"},"encoding":{"text":{"field":"t"}}},
{"data":{"values":[{"x":27,"y":340,"t":"Pitch(°)"}]},"mark":{"type":"text","fontSize":20,"angle":270},"encoding":{"text":{"field":"t"}}},
{"data":{"values":[{"x":99,"y":460,"t":"Yaw(°)"}]},"mark":{"type":"text","fontSize":21,"angle":32},"encoding":{"text":{"field":"t"}}},
{"data":{"values":[{"x":293,"y":463,"t":"Distance (mm)"}]},"mark":{"type":"text","fontSize":20,"angle":340},"encoding":{"text":{"field":"t"}}}]}
]},
{"width":374,"height":1,"view":{"stroke":null},"data":{"values":[{}]},"mark":{"type":"rule","opacity":0},"encoding":{}},
{"bounds":"flush","spacing":0,"vconcat":[
{"width":1,"height":7,"view":{"stroke":null},"data":{"values":[{}]},"mark":{"type":"rule","opacity":0},"encoding":{}},
{"bounds":"flush","columns":2,"spacing":{"row":43,"column":25},"concat":[
{"width":134,"height":101,"title":"yaw = -30°","data":{"name":"C1"},"mark":"rect","encoding":{"x":{"field":"x","type":"quantitative","scale":{"domain":[0,25]},"axis":{"labels":false,"title":null,"values":[5,10,15,20]}},"x2":{"field":"x2"},"y":{"field":"y","type":"quantitative","scale":{"domain":[-90,90]},"axis":{"labels":false,"title":null,"values":[-45,0,45]}},"y2":{"field":"y2"},"color":{"field":"v","type":"quantitative","legend":null,"scale":{"domain":[0,42.9,43,54,75,97,118,129],"range":["#000","#000","#00008f","#0000ff","#00ffff","#ffff00","#ff0000","#800000"]}}}},
{"width":134,"height":101,"title":"yaw = -15°","data":{"name":"C2"},"mark":"rect","encoding":{"x":{"field":"x","type":"quantitative","scale":{"domain":[0,25]},"axis":{"labels":false,"title":null,"values":[5,10,15,20]}},"x2":{"field":"x2"},"y":{"field":"y","type":"quantitative","scale":{"domain":[-90,90]},"axis":{"labels":false,"title":null,"values":[-45,0,45]}},"y2":{"field":"y2"},"color":{"field":"v","type":"quantitative","legend":null,"scale":{"domain":[0,42.9,43,54,75,97,118,129],"range":["#000","#000","#00008f","#0000ff","#00ffff","#ffff00","#ff0000","#800000"]}}}},
{"width":134,"height":101,"title":"yaw = 0°","data":{"name":"A"},"mark":"rect","encoding":{"x":{"field":"x","type":"quantitative","scale":{"domain":[0,25]},"axis":{"labels":false,"title":null,"values":[5,10,15,20]}},"x2":{"field":"x2"},"y":{"field":"y","type":"quantitative","scale":{"domain":[-90,90]},"axis":{"labels":false,"title":null,"values":[-45,0,45]}},"y2":{"field":"y2"},"color":{"field":"v","type":"quantitative","legend":null,"scale":{"domain":[0,42.9,43,54,75,97,118,129],"range":["#000","#000","#00008f","#0000ff","#00ffff","#ffff00","#ff0000","#800000"]}}}},
{"width":134,"height":101,"title":"yaw = 15°","data":{"name":"C4"},"mark":"rect","encoding":{"x":{"field":"x","type":"quantitative","scale":{"domain":[0,25]},"axis":{"labels":false,"title":null,"values":[5,10,15,20]}},"x2":{"field":"x2"},"y":{"field":"y","type":"quantitative","scale":{"domain":[-90,90]},"axis":{"labels":false,"title":null,"values":[-45,0,45]}},"y2":{"field":"y2"},"color":{"field":"v","type":"quantitative","legend":null,"scale":{"domain":[0,42.9,43,54,75,97,118,129],"range":["#000","#000","#00008f","#0000ff","#00ffff","#ffff00","#ff0000","#800000"]}}}},
{"width":134,"height":101,"title":"yaw = 30°","data":{"name":"C5"},"mark":"rect","encoding":{"x":{"field":"x","type":"quantitative","scale":{"domain":[0,25]},"axis":{"values":[0,5,10,15,20,25],"labelExpr":"datum.value==0||datum.value==25?datum.label:''","labelFlush":true,"labelFontSize":20,"labelPadding":6,"title":"Dist(mm)","titlePadding":-7}},"x2":{"field":"x2"},"y":{"field":"y","type":"quantitative","scale":{"domain":[-90,90]},"axis":{"values":[-90,-45,0,45,90],"labelExpr":"datum.value==90?'90':datum.value==-90?'-90':''","labelFlush":true,"labelFontSize":20,"labelPadding":5,"title":"Pitch(°)","titlePadding":3}},"y2":{"field":"y2"},"color":{"field":"v","type":"quantitative","legend":null,"scale":{"domain":[0,42.9,43,54,75,97,118,129],"range":["#000","#000","#00008f","#0000ff","#00ffff","#ffff00","#ff0000","#800000"]}}}},
{"width":134,"height":101,"title":"yaw = 45°","data":{"name":"C6"},"mark":"rect","encoding":{"x":{"field":"x","type":"quantitative","scale":{"domain":[0,25]},"axis":{"labels":false,"title":null,"values":[5,10,15,20]}},"x2":{"field":"x2"},"y":{"field":"y","type":"quantitative","scale":{"domain":[-90,90]},"axis":{"labels":false,"title":null,"values":[-45,0,45]}},"y2":{"field":"y2"},"color":{"field":"v","type":"quantitative","legend":null,"scale":{"domain":[0,42.9,43,54,75,97,118,129],"range":["#000","#000","#00008f","#0000ff","#00ffff","#ffff00","#ff0000","#800000"]}}}}
]}]}
]},
{"width":1,"height":465,"view":{"stroke":null},"data":{"values":[{}]},"mark":{"type":"rule","opacity":0},"encoding":{}},
{"bounds":"flush","spacing":0,"hconcat":[
{"width":280,"height":1,"view":{"stroke":null},"data":{"values":[{}]},"mark":{"type":"rule","opacity":0},"encoding":{}},
{"width":169,"height":22,"encoding":{"x":{"field":"x","type":"quantitative","scale":{"domain":[36.4,129]},"axis":{"orient":"top","values":[60,80,100,120],"labelOverlap":false,"title":null,"labelPadding":2}},"y":{"field":"y","type":"quantitative","scale":{"domain":[22,0]},"axis":null}},"layer":[
{"data":{"values":[{"x":36.4,"x2":43,"y":0,"y2":22}]},"mark":{"type":"rect","color":"#000"},"encoding":{"x2":{"field":"x2"},"y2":{"field":"y2"}}},
{"data":{"values":[{"x":43,"x2":129,"y":0,"y2":22}]},"mark":{"type":"rect","color":{"gradient":"linear","x1":0,"x2":1,"y1":0,"y2":0,"stops":[{"offset":0,"color":"#00008f"},{"offset":0.125,"color":"#0000ff"},{"offset":0.375,"color":"#00ffff"},{"offset":0.625,"color":"#ffff00"},{"offset":0.875,"color":"#ff0000"},{"offset":1,"color":"#800000"}]}},"encoding":{"x2":{"field":"x2"},"y2":{"field":"y2"}}},
{"data":{"values":[{"x":41.3,"y":-10,"t":"Rest"},{"x":68.2,"y":33,"t":"θ"}]},"mark":{"type":"text","fontSize":16},"encoding":{"text":{"field":"t"}}},
{"data":{"values":[{"x":70.9,"y":41,"t":"impact"}]},"mark":{"type":"text","fontSize":12,"align":"left"},"encoding":{"text":{"field":"t"}}},
{"data":{"values":[{"x":89.5,"y":32,"t":"(°)"}]},"mark":{"type":"text","fontSize":17,"align":"left"},"encoding":{"text":{"field":"t"}}}]}
]},
{"width":1,"height":53,"view":{"stroke":null},"data":{"values":[{}]},"mark":{"type":"rule","opacity":0},"encoding":{}},
{"width":743,"height":69,"view":{"stroke":null},"data":{"values":[{"t":"C2 Whisker","x":364,"y":14,"a":300,"b":428,"c":28}]},"layer":[{"mark":{"type":"text","fontSize":25},"encoding":{"text":{"field":"t"},"x":{"field":"x","type":"quantitative","scale":{"domain":[0,743]},"axis":null},"y":{"field":"y","type":"quantitative","scale":{"domain":[69,0]},"axis":null}}},{"mark":{"type":"rule","color":"#111","strokeWidth":2},"encoding":{"x":{"field":"a","type":"quantitative","scale":{"domain":[0,743]},"axis":null},"x2":{"field":"b"},"y":{"field":"c","type":"quantitative","scale":{"domain":[69,0]},"axis":null}}}]},
{"bounds":"flush","spacing":0,"hconcat":[
{"width":77,"height":1,"view":{"stroke":null},"data":{"values":[{}]},"mark":{"type":"rule","opacity":0},"encoding":{}},
{"bounds":"flush","spacing":0,"vconcat":[
{"width":1,"height":4,"view":{"stroke":null},"data":{"values":[{}]},"mark":{"type":"rule","opacity":0},"encoding":{}},
{"width":175,"height":131,"data":{"name":"D"},"mark":"area","encoding":{"x":{"field":"x","type":"quantitative","scale":{"domain":[0,25]},"axis":{"values":[0,5,10,15,20,25],"labelOverlap":false,"title":"Distance (mm)","titlePadding":2,"labelPadding":4}},"y":{"field":"y","type":"quantitative","scale":{"domain":[-90,90]},"axis":{"values":[-90,-45,0,45,90],"labelOverlap":false,"labelExpr":"''+datum.value","title":"Head Pitch (°)","titlePadding":3,"labelPadding":6}},"y2":{"field":"y2"},"detail":{"field":"v","type":"nominal"},"color":{"field":"v","type":"quantitative","legend":null,"scale":{"domain":[0,42.9,43,54,75,97,118,129],"range":["#000","#000","#00008f","#0000ff","#00ffff","#ffff00","#ff0000","#800000"]}}}},
{"width":1,"height":56,"view":{"stroke":null},"data":{"values":[{}]},"mark":{"type":"rule","opacity":0},"encoding":{}},
{"width":283,"height":246,"view":{"stroke":null},"encoding":{"x":{"field":"x","type":"quantitative","scale":{"domain":[77,360]},"axis":null},"y":{"field":"y","type":"quantitative","scale":{"domain":[1081,835]},"axis":null}},"layer":[
{"data":{"name":"E0"},"mark":{"type":"area","color":"#000","stroke":"#777","strokeWidth":1.5,"strokeDash":[2,2]},"encoding":{"y2":{"field":"y2"}}},
{"data":{"name":"E"},"mark":"area","encoding":{"y2":{"field":"y2"},"detail":{"field":"v","type":"nominal"},"color":{"field":"v","type":"quantitative","legend":null,"scale":{"domain":[0,42.9,43,54,75,97,118,129],"range":["#000","#000","#00008f","#0000ff","#00ffff","#ffff00","#ff0000","#800000"]}}}},
{"data":{"values":[{"x":76,"y":995,"a":188,"b":1052},{"x":188,"y":1052,"a":338,"b":1005}]},"mark":{"type":"rule","color":"#222","strokeWidth":1},"encoding":{"x2":{"field":"a"},"y2":{"field":"b"}}},
{"data":{"values":[{"x":57,"y":874,"t":"90"},{"x":57,"y":904,"t":"45"},{"x":61,"y":930,"t":"0"},{"x":54,"y":962,"t":"-45"},{"x":54,"y":990,"t":"-90"},{"x":62,"y":1005,"t":"90"},{"x":87,"y":1018,"t":"45"},{"x":114,"y":1033,"t":"0"},{"x":144,"y":1047,"t":"-45"},{"x":171,"y":1060,"t":"-90"},{"x":199,"y":1060,"t":"0"},{"x":237,"y":1052,"t":"10"},{"x":275,"y":1039,"t":"20"},{"x":312,"y":1026,"t":"30"},{"x":350,"y":1013,"t":"40"}]},"mark":{"type":"text","fontSize":16},"encoding":{"text":{"field":"t"}}},
{"data":{"values":[{"x":9,"y":841,"t":"E"},{"x":9.5,"y":633,"t":"D"},{"x":407,"y":640,"t":"F"}]},"mark":{"type":"text","fontSize":24,"fontWeight":"bold"},"encoding":{"text":{"field":"t"}}},
{"data":{"values":[{"x":27,"y":930,"t":"Pitch(°)"}]},"mark":{"type":"text","fontSize":20,"angle":270},"encoding":{"text":{"field":"t"}}},
{"data":{"values":[{"x":99,"y":1050,"t":"Yaw(°)"}]},"mark":{"type":"text","fontSize":21,"angle":32},"encoding":{"text":{"field":"t"}}},
{"data":{"values":[{"x":296,"y":1048,"t":"Distance (mm)"}]},"mark":{"type":"text","fontSize":20,"angle":340},"encoding":{"text":{"field":"t"}}}]}
]},
{"width":370,"height":1,"view":{"stroke":null},"data":{"values":[{}]},"mark":{"type":"rule","opacity":0},"encoding":{}},
{"bounds":"flush","spacing":0,"vconcat":[
{"width":1,"height":2,"view":{"stroke":null},"data":{"values":[{}]},"mark":{"type":"rule","opacity":0},"encoding":{}},
{"bounds":"flush","columns":2,"spacing":{"row":43,"column":25},"concat":[
{"width":133,"height":100,"title":"yaw = -30°","data":{"name":"F1"},"mark":"area","encoding":{"x":{"field":"x","type":"quantitative","scale":{"domain":[0,40]},"axis":{"labels":false,"title":null,"values":[5,15,25,35]}},"y":{"field":"y","type":"quantitative","scale":{"domain":[-90,90]},"axis":{"labels":false,"title":null,"values":[-45,0,45]}},"y2":{"field":"y2"},"detail":{"field":"v","type":"nominal"},"color":{"field":"v","type":"quantitative","legend":null,"scale":{"domain":[0,42.9,43,54,75,97,118,129],"range":["#000","#000","#00008f","#0000ff","#00ffff","#ffff00","#ff0000","#800000"]}}}},
{"width":133,"height":100,"title":"yaw = -15°","data":{"name":"F2"},"mark":"area","encoding":{"x":{"field":"x","type":"quantitative","scale":{"domain":[0,40]},"axis":{"labels":false,"title":null,"values":[5,15,25,35]}},"y":{"field":"y","type":"quantitative","scale":{"domain":[-90,90]},"axis":{"labels":false,"title":null,"values":[-45,0,45]}},"y2":{"field":"y2"},"detail":{"field":"v","type":"nominal"},"color":{"field":"v","type":"quantitative","legend":null,"scale":{"domain":[0,42.9,43,54,75,97,118,129],"range":["#000","#000","#00008f","#0000ff","#00ffff","#ffff00","#ff0000","#800000"]}}}},
{"width":133,"height":100,"title":"yaw = 0°","data":{"name":"F3"},"mark":"area","encoding":{"x":{"field":"x","type":"quantitative","scale":{"domain":[0,40]},"axis":{"labels":false,"title":null,"values":[5,15,25,35]}},"y":{"field":"y","type":"quantitative","scale":{"domain":[-90,90]},"axis":{"labels":false,"title":null,"values":[-45,0,45]}},"y2":{"field":"y2"},"detail":{"field":"v","type":"nominal"},"color":{"field":"v","type":"quantitative","legend":null,"scale":{"domain":[0,42.9,43,54,75,97,118,129],"range":["#000","#000","#00008f","#0000ff","#00ffff","#ffff00","#ff0000","#800000"]}}}},
{"width":133,"height":100,"title":"yaw = 15°","data":{"name":"F4"},"mark":"area","encoding":{"x":{"field":"x","type":"quantitative","scale":{"domain":[0,40]},"axis":{"labels":false,"title":null,"values":[5,15,25,35]}},"y":{"field":"y","type":"quantitative","scale":{"domain":[-90,90]},"axis":{"labels":false,"title":null,"values":[-45,0,45]}},"y2":{"field":"y2"},"detail":{"field":"v","type":"nominal"},"color":{"field":"v","type":"quantitative","legend":null,"scale":{"domain":[0,42.9,43,54,75,97,118,129],"range":["#000","#000","#00008f","#0000ff","#00ffff","#ffff00","#ff0000","#800000"]}}}},
{"width":133,"height":100,"title":"yaw = 30°","data":{"name":"F5"},"mark":"area","encoding":{"x":{"field":"x","type":"quantitative","scale":{"domain":[0,40]},"axis":{"values":[0,5,15,25,35,40],"labelExpr":"datum.value==0||datum.value==40?datum.label:''","labelFlush":true,"labelFontSize":20,"labelPadding":6,"title":"Dist(mm)","titlePadding":-7}},"y":{"field":"y","type":"quantitative","scale":{"domain":[-90,90]},"axis":{"values":[-90,-45,0,45,90],"labelExpr":"datum.value==90?'90':datum.value==-90?'-90':''","labelFlush":true,"labelFontSize":20,"labelPadding":5,"title":"Pitch(°)","titlePadding":3}},"y2":{"field":"y2"},"detail":{"field":"v","type":"nominal"},"color":{"field":"v","type":"quantitative","legend":null,"scale":{"domain":[0,42.9,43,54,75,97,118,129],"range":["#000","#000","#00008f","#0000ff","#00ffff","#ffff00","#ff0000","#800000"]}}}},
{"width":133,"height":100,"title":"yaw = 45°","data":{"name":"F6"},"mark":"area","encoding":{"x":{"field":"x","type":"quantitative","scale":{"domain":[0,40]},"axis":{"labels":false,"title":null,"values":[5,15,25,35]}},"y":{"field":"y","type":"quantitative","scale":{"domain":[-90,90]},"axis":{"labels":false,"title":null,"values":[-45,0,45]}},"y2":{"field":"y2"},"detail":{"field":"v","type":"nominal"},"color":{"field":"v","type":"quantitative","legend":null,"scale":{"domain":[0,42.9,43,54,75,97,118,129],"range":["#000","#000","#00008f","#0000ff","#00ffff","#ffff00","#ff0000","#800000"]}}}}
]}]}
]}
]}
